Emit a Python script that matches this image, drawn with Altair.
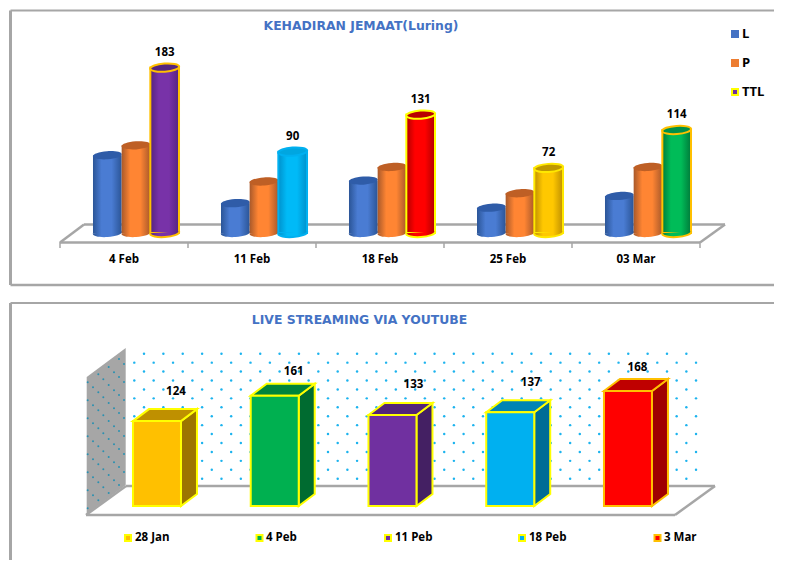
import altair as alt
import pandas as pd

# ---------- values ----------
cats1 = ["4 Feb", "11 Feb", "18 Feb", "25 Feb", "03 Mar"]
vals_L = [86, 33, 58, 28, 41]
vals_P = [97, 57, 73, 44, 73]
vals_TTL = [183, 90, 131, 72, 114]
series1 = ["L", "P", "TTL"]
title1 = "KEHADIRAN JEMAAT(Luring)"

cats2 = ["28 Jan", "4 Peb", "11 Peb", "18 Peb", "3 Mar"]
vals2 = [124, 161, 133, 137, 168]
title2 = "LIVE STREAMING VIA YOUTUBE"

# ---------- styles ----------
FONT = "Open Sans"
TITLE_FONT = "DejaVu Sans"
GREY = "#A6A6A6"
TOP_H = 286
W = 766
PANEL2_H = 266
RIGHT = 774

L_STYLE = ("#2B5597", "#4A7CD3", "#2F5CA8", None)
P_STYLE = ("#A9592A", "#FF8533", "#BE5F25", None)
TTL_STYLE = [
    ("#55247F", "#7832A8", "#55257F", "#FFC000"),
    ("#0091CC", "#00BAF7", "#00A6E0", "#00B0F0"),
    ("#B00000", "#FF0000", "#B80000", "#FFFF00"),
    ("#BF9000", "#FFC800", "#BF9800", "#FFE800"),
    ("#007A3A", "#00BC58", "#00914A", "#FFC000"),
]
BOX = [
    ("#FFC000", "#BF9000", "#9C7500", "#FFFF00"),
    ("#00B050", "#00843C", "#006B30", "#FFFF00"),
    ("#7030A0", "#54247A", "#442063", "#FFFF00"),
    ("#00B0F0", "#0084B4", "#006C96", "#FFFF00"),
    ("#FF0000", "#BF0000", "#A00000", "#FFC000"),
]
BOX_LABEL_DX = [19, 19, 21, 20.5, 9.5]
BOX_LABEL_DY = [29, 24, 30, 29, 23]

ELLIPSE = "M-1,0A1,0.28,0,1,1,1,0A1,0.28,0,1,1,-1,0Z"
BOTTOM = "M-1,-0.05L-1,0A1,0.28,0,0,0,1,0L1,-0.05"
ROW = pd.DataFrame({"a": [0]})


def grad(dark, mid):
    return alt.LinearGradient(
        gradient="linear", x1=0, x2=1, y1=0, y2=0,
        stops=[
            alt.GradientStop(color=dark, offset=0),
            alt.GradientStop(color=mid, offset=0.3),
            alt.GradientStop(color=mid, offset=0.65),
            alt.GradientStop(color=dark, offset=1),
        ],
    )


def seg(x1, y1, x2, y2, off_y, color=GREY, width=2.5):
    return alt.Chart(ROW).mark_rule(color=color, strokeWidth=width).encode(
        x=alt.value(x1 - 8), x2=alt.value(x2 - 8),
        y=alt.value(y1 - off_y), y2=alt.value(y2 - off_y),
    )


def label(txt, x, y, off_y, size=12, color="black", align="center", font=FONT):
    return alt.Chart(ROW).mark_text(
        text=txt, font=font, fontWeight="bold", fontSize=size, color=color,
        align=align, baseline="middle",
    ).encode(x=alt.value(x - 8), y=alt.value(y - off_y))


def swatch(x, y, off_y, fill, stroke=None, size=60):
    kw = {"stroke": stroke, "strokeWidth": 2} if stroke else {"strokeWidth": 0}
    return alt.Chart(ROW).mark_point(
        shape="square", filled=True, fill=fill, opacity=1, size=size, **kw
    ).encode(x=alt.value(x - 8), y=alt.value(y - off_y))


# ---------- top panel ----------
X1 = alt.Scale(domain=[0, 5], range=[60 - 8, 700 - 8], nice=False, zero=False)
Y1 = alt.Scale(domain=[0, 183], range=[233 - 8, 67.6 - 8], nice=False, zero=False)
xq1 = lambda f: alt.X(f, type="quantitative", scale=X1, axis=None)
yq1 = lambda f: alt.Y(f, type="quantitative", scale=Y1, axis=None)

BAR_W1 = 0.224
SHIFT1 = 12 / 128


def cylinder(i, s, value, style):
    dark, mid, top, edge = style
    c = i + 0.5 + SHIFT1 + (s - 1) * BAR_W1
    d = pd.DataFrame({"xl": [c - BAR_W1 / 2], "xr": [c + BAR_W1 / 2], "xc": [c],
                      "value": [value], "zero": [0]})
    g = grad(dark, mid)
    kw = {"stroke": edge, "strokeWidth": 2} if edge else {"strokeWidth": 0}
    size = 29 ** 2
    return [
        alt.Chart(d).mark_rect(fill=g, **kw).encode(x=xq1("xl"), x2="xr", y=yq1("value"), y2="zero"),
        alt.Chart(d).mark_point(shape=BOTTOM, filled=True, fill=g, opacity=1, size=size, angle=356, **kw)
        .encode(x=xq1("xc"), y=yq1("zero")),
        alt.Chart(d).mark_point(shape=ELLIPSE, filled=True, fill=top, opacity=1, size=size, angle=356, **kw)
        .encode(x=xq1("xc"), y=yq1("value")),
    ]


layers1 = [
    seg(10.5, 285, RIGHT, 285, 8),
    seg(10.5, 10.5, RIGHT, 10.5, 8, width=2),
    seg(10.5, 10.5, 10.5, 285, 8, width=3),
    seg(84, 224.5, 725, 224.5, 8),
    seg(60, 242.5, 700, 242.5, 8),
    seg(60, 242.5, 84, 224.5, 8),
    seg(700, 242.5, 725, 224.5, 8),
]
ticks1 = pd.DataFrame({"p": [0, 1, 2, 3, 4, 5]})
layers1.append(alt.Chart(ticks1).mark_rule(color=GREY, strokeWidth=1.5).encode(
    x=xq1("p"), y=alt.value(242 - 8), y2=alt.value(248 - 8)))

for i in range(len(cats1)):
    layers1 += cylinder(i, 0, vals_L[i], L_STYLE)
    layers1 += cylinder(i, 1, vals_P[i], P_STYLE)
    layers1 += cylinder(i, 2, vals_TTL[i], TTL_STYLE[i])

vals_df1 = pd.DataFrame({"xc": [i + 0.5 + SHIFT1 + BAR_W1 for i in range(5)],
                         "value": vals_TTL, "cat": cats1, "p": [i + 0.5 for i in range(5)]})
layers1.append(alt.Chart(vals_df1).mark_text(font=FONT, fontWeight="bold", fontSize=11.5, color="black", dy=-15, baseline="middle")
               .encode(x=xq1("xc"), y=yq1("value"), text="value:Q"))
layers1.append(alt.Chart(vals_df1).mark_text(font=FONT, fontWeight="bold", fontSize=11.5, color="black", baseline="middle")
               .encode(x=xq1("p"), y=alt.value(260 - 8), text="cat:N"))
layers1.append(label(title1, 361, 26, 8, size=12.4, color="#4472C4", font=TITLE_FONT))
for name, yy, fill, stroke in zip(series1, [34, 63, 92], ["#4472C4", "#ED7D31", "#7030A0"], [None, None, "#FFFF00"]):
    layers1.append(swatch(735, yy, 8, fill, stroke, size=64 if stroke is None else 36))
    layers1.append(label(name, 742, yy, 8, size=13, align="left"))

panel1 = alt.layer(*layers1).properties(width=W, height=TOP_H)

# ---------- bottom panel ----------
O2 = 8 + TOP_H
X2_0, X2_STEP = 98.1 - 8, 117.75
Y2_0, Y2_K = 506 - O2, 115 / 168
X2 = alt.Scale(domain=[0, 5], range=[X2_0, X2_0 + 5 * X2_STEP], nice=False, zero=False)
Y2 = alt.Scale(domain=[0, 168], range=[Y2_0, Y2_0 - 115], nice=False, zero=False)
xq2 = lambda f: alt.X(f, type="quantitative", scale=X2, axis=None)
yq2 = lambda f: alt.Y(f, type="quantitative", scale=Y2, axis=None)
to_u = lambda px: (px - 8 - X2_0) / X2_STEP
to_v = lambda py: (Y2_0 - (py - O2)) / Y2_K

layers2 = [
    seg(10.5, 303, RIGHT, 303, O2, width=2),
    seg(10.5, 303, 10.5, 560, O2, width=3),
    alt.Chart(ROW).mark_point(
        shape="M0,0L39,-29L39,108L0,137Z", filled=True, fill=GREY, opacity=1, size=4, strokeWidth=0
    ).encode(x=alt.value(86.7 - 8), y=alt.value(377 - O2)),
    seg(86, 515, 675, 515, O2),
    seg(126, 486, 715, 486, O2),
    seg(86, 515, 126, 486, O2),
    seg(675, 515, 715, 486, O2),
]

dot_x, dot_y = [], []
for r in range(15):
    start, end = (144.0, 700.0) if r % 2 == 0 else (134.3, 710.0)
    x = start
    while x <= end:
        dot_x.append(to_u(x))
        dot_y.append(to_v(353.7 + r * 8.93))
        x += 19.37
dots = pd.DataFrame({"x": dot_x, "y": dot_y})
layers2.append(alt.Chart(dots).mark_circle(color="#1CB3EE", size=6, opacity=1).encode(x=xq2("x"), y=yq2("y")))

wall_x, wall_y = [], []
WALL_COLS = [87.7, 93, 98.3, 103.3, 108.7, 114, 119, 124]
WALL_STARTS = [382.3, 387.3, 374.3, 379.3, 367, 372.3, 359, 364]
for px, py in zip(WALL_COLS, WALL_STARTS):
    limit = 514 - 0.74 * (px - 86.7) - 3
    while py < limit:
        wall_x.append(to_u(px))
        wall_y.append(to_v(py))
        py += 18
wall = pd.DataFrame({"x": wall_x, "y": wall_y})
layers2.append(alt.Chart(wall).mark_circle(color="#2A90B0", size=4, opacity=1).encode(x=xq2("x"), y=yq2("y")))

BAR_W2 = 48 / X2_STEP
DX = 16 / X2_STEP
DV = 12 / Y2_K
for i, v in enumerate(vals2):
    front, top, side, edge = BOX[i]
    xl, xr = i + 0.5 - BAR_W2 / 2, i + 0.5 + BAR_W2 / 2
    side_df = pd.DataFrame({"x": [xr, xr + DX], "y": [v, v + DV], "y2": [0, DV]})
    top_df = pd.DataFrame({"x": [xl, xl + DX, xr, xr + DX], "y": [v, v + DV, v + DV, v + DV], "y2": [v, v, v, v + DV]})
    front_df = pd.DataFrame({"xl": [xl], "xr": [xr], "y": [v], "y2": [0]})
    layers2.append(alt.Chart(side_df).mark_area(fill=side, stroke=edge, strokeWidth=2, orient="vertical", opacity=1)
                   .encode(x=xq2("x"), y=yq2("y"), y2="y2"))
    layers2.append(alt.Chart(top_df).mark_area(fill=top, stroke=edge, strokeWidth=2, orient="vertical", opacity=1)
                   .encode(x=xq2("x"), y=yq2("y"), y2="y2"))
    layers2.append(alt.Chart(front_df).mark_rect(fill=front, stroke=edge, strokeWidth=2)
                   .encode(x=xq2("xl"), x2="xr", y=yq2("y"), y2="y2"))
    lab = pd.DataFrame({"x": [i + 0.5 + BOX_LABEL_DX[i] / X2_STEP], "value": [v]})
    layers2.append(alt.Chart(lab).mark_text(font=FONT, fontWeight="bold", fontSize=11.5, color="black",
                                            dy=-BOX_LABEL_DY[i], baseline="middle")
                   .encode(x=xq2("x"), y=yq2("value"), text="value:Q"))

layers2.append(label(title2, 359.5, 320, O2, size=12.4, color="#4472C4", font=TITLE_FONT))
for name, sx, tx, st in zip(cats2, [128, 259.5, 388, 522, 657.5], [135, 266, 395, 529, 664], BOX):
    layers2.append(swatch(sx, 538, O2, st[0], st[3], size=36))
    layers2.append(label(name, tx, 538, O2, size=11.5, align="left"))

panel2 = alt.layer(*layers2).properties(width=W, height=PANEL2_H)

chart = alt.vconcat(panel1, panel2, spacing=0).properties(
    padding={"left": 0, "right": 0, "top": 0, "bottom": 0}
).configure_view(stroke=None).configure_concat(spacing=0)
chart.save("out.html", embed_options={"renderer": "svg", "actions": False})
